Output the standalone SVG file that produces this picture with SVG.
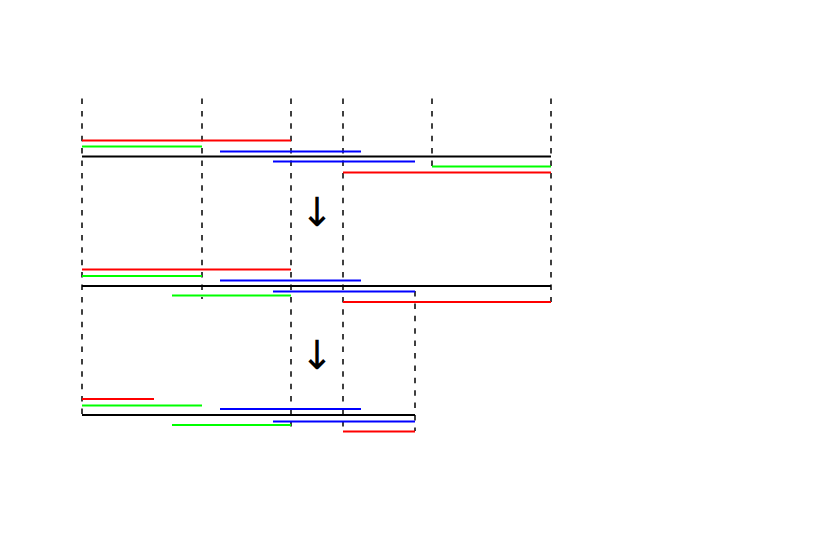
<svg xmlns="http://www.w3.org/2000/svg" width="817" height="545" viewBox="0 0 817 545">
<style>
.d{stroke:#000;stroke-width:1.5;stroke-dasharray:5.5,6.9;fill:none}
.k{stroke:#000;stroke-width:2;fill:none}
.r{stroke:#ff0000;stroke-width:2}
.g{stroke:#00ff00;stroke-width:2}
.b{stroke:#0000ff;stroke-width:2}
.a{font-family:"DejaVu Sans",sans-serif;font-size:40px;text-anchor:middle;fill:#000}
</style>
<rect width="817" height="545" fill="#fff"/>
<g id="guides">
<line class="d" x1="82" y1="98.5" x2="82" y2="415"/>
<line class="d" x1="202" y1="98.5" x2="202" y2="299"/>
<line class="d" x1="291" y1="98.5" x2="291" y2="428"/>
<line class="d" x1="343" y1="98.5" x2="343" y2="431"/>
<line class="d" x1="432" y1="98.5" x2="432" y2="169"/>
<line class="d" x1="551" y1="98.5" x2="551" y2="302"/>
<line class="d" x1="415" y1="291" x2="415" y2="431"/>
</g>
<g id="stage1">
<line class="r" x1="82" y1="140.5" x2="291" y2="140.5"/>
<line class="g" x1="82" y1="146.5" x2="202" y2="146.5"/>
<line class="b" x1="220" y1="151.5" x2="361" y2="151.5"/>
<line class="k" x1="82" y1="156.5" x2="551" y2="156.5"/>
<line class="b" x1="273" y1="161.5" x2="415" y2="161.5"/>
<line class="g" x1="432" y1="166.5" x2="551" y2="166.5"/>
<line class="r" x1="343" y1="172.5" x2="551" y2="172.5"/>
</g>
<g id="stage2">
<line class="r" x1="82" y1="269.5" x2="291" y2="269.5"/>
<line class="g" x1="82" y1="276" x2="202" y2="276"/>
<line class="b" x1="220" y1="280.5" x2="361" y2="280.5"/>
<line class="k" x1="82" y1="286" x2="551" y2="286"/>
<line class="b" x1="273" y1="291.5" x2="415" y2="291.5"/>
<line class="g" x1="172" y1="295.5" x2="291" y2="295.5"/>
<line class="r" x1="343" y1="302" x2="551" y2="302"/>
</g>
<g id="stage3">
<line class="r" x1="82" y1="399" x2="154" y2="399"/>
<line class="g" x1="82" y1="405.5" x2="202" y2="405.5"/>
<line class="b" x1="220" y1="409" x2="361" y2="409"/>
<line class="k" x1="82" y1="415" x2="415" y2="415"/>
<line class="b" x1="273" y1="421.5" x2="415" y2="421.5"/>
<line class="g" x1="172" y1="425" x2="291" y2="425"/>
<line class="r" x1="343" y1="431.5" x2="415" y2="431.5"/>
</g>
<g id="arrows">
<text class="a" x="317" y="226">↓</text>
<text class="a" x="317" y="369">↓</text>
</g>
</svg>
